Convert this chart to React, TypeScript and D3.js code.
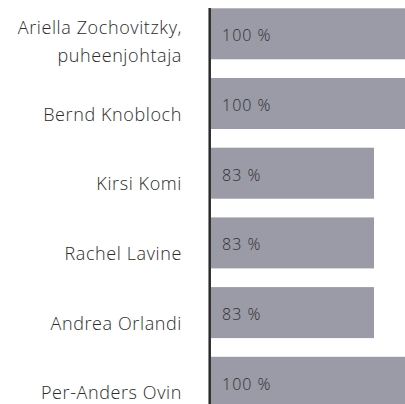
import React from "react";
import * as d3 from "d3";

const names: string[][] = [
  ["Ariella Zochovitzky,", "puheenjohtaja"],
  ["Bernd Knobloch"],
  ["Kirsi Komi"],
  ["Rachel Lavine"],
  ["Andrea Orlandi"],
  ["Per-Anders Ovin"],
];
const values: number[] = [100, 100, 83, 83, 83, 100];
const valueLabels: string[] = ["100 %", "100 %", "83 %", "83 %", "83 %", "100 %"];

const W = 405;
const H = 404;

export default function App() {
  const keys = names.map((n) => n.join(" "));
  const y = d3
    .scaleBand<string>()
    .domain(keys)
    .range([8.3, 8.3 + 5 * 69.7 + 51])
    .paddingInner(18.7 / 69.7)
    .paddingOuter(0);
  const x = d3.scaleLinear().domain([0, 100]).range([211, 407.4]);
  const font = "'Open Sans', sans-serif";

  return (
    <svg
      width={W}
      height={H}
      style={{ position: "absolute", left: 0, top: 0, background: "#fff" }}
    >
      {keys.map((k, i) => {
        const y0 = y(k)!;
        const bw = y.bandwidth();
        const cy = y0 + bw / 2;
        const lines = names[i];
        const base0 = cy + 17 - (lines.length - 1) * 17;
        return (
          <g key={k}>
            <rect x={x(0)} y={y0} width={x(values[i]) - x(0)} height={bw} fill="#9a9ba6" />
            <text
              x={x(0) + 11}
              y={cy + 7.5}
              fontFamily={font}
              fontSize={16}
              fontWeight={300}
              letterSpacing={1}
              fill="#2e2e2e"
            >
              {valueLabels[i]}
            </text>
            <text
              textAnchor="end"
              fontFamily={font}
              fontSize={18}
              fontWeight={300}
              letterSpacing={0.6}
              fill="#2b2b2b"
            >
              {lines.map((l, j) => (
                <tspan key={j} x={182} y={base0 + j * 28}>
                  {l}
                </tspan>
              ))}
            </text>
          </g>
        );
      })}
      <line x1={209.7} x2={209.7} y1={8} y2={H} stroke="#2a2a2a" strokeWidth={2.5} />
    </svg>
  );
}
